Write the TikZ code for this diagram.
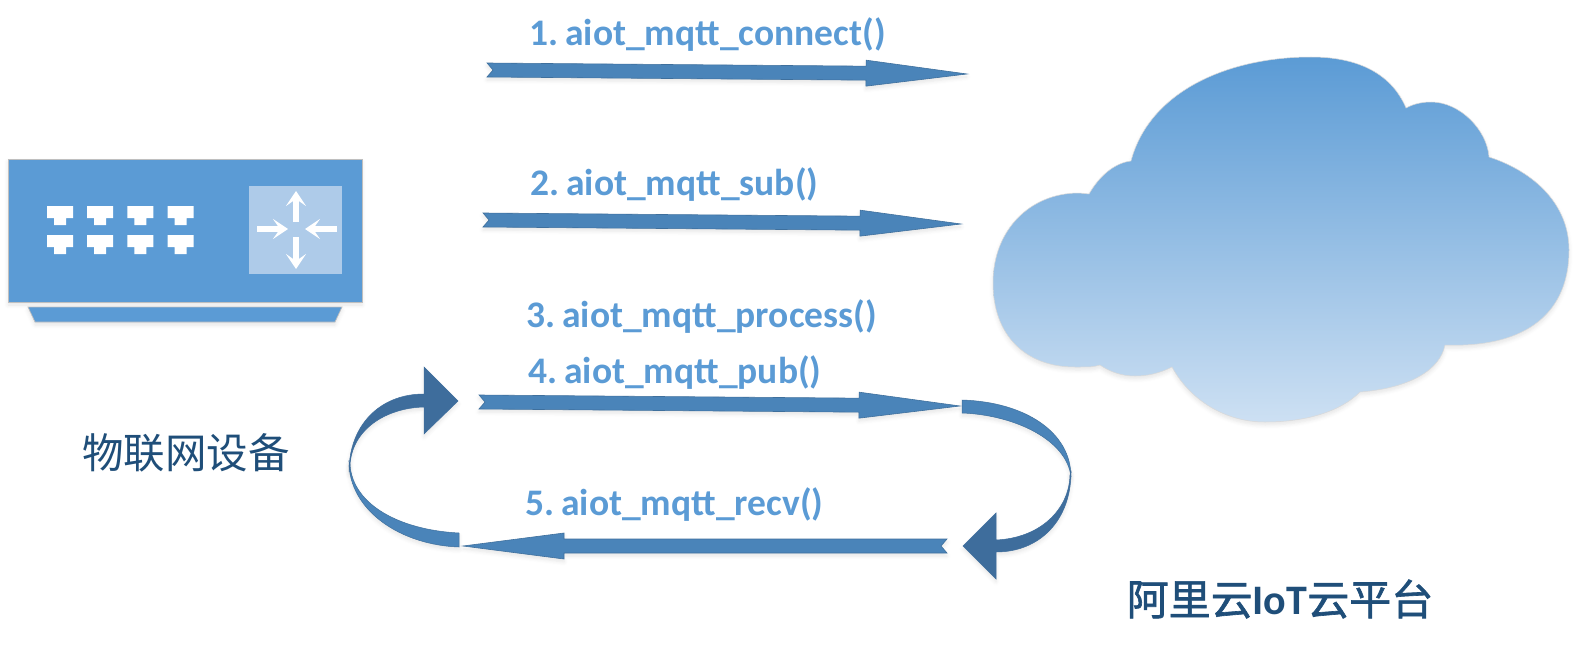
\documentclass[tikz,border=0pt]{standalone}
\usepackage{fontspec}
\setmainfont[WordSpace=0.5]{Carlito}
\newfontfamily\cjk{Noto Sans CJK SC}
\newfontfamily\cjkmid[FakeBold=1.5]{Noto Sans CJK SC}
\usetikzlibrary{arrows.meta, calc, shadows.blur}
\definecolor{devblue}{HTML}{5B9BD5}
\definecolor{panelblue}{HTML}{AECBE9}
\definecolor{bandblue}{HTML}{4A84B9}
\definecolor{banddark}{HTML}{3E6D9C}
\definecolor{inkblue}{HTML}{1F4E79}
\definecolor{cloudlow}{HTML}{CDE0F3}

\begin{document}
\begin{tikzpicture}[x=1pt, y=-1pt,
    glow/.style={blur shadow={shadow xshift=0pt, shadow yshift=-3pt, shadow blur radius=4pt, shadow blur steps=5, shadow opacity=10}},
    device/.style={fill=devblue, draw=black!25, line width=0.7pt, glow},
    port/.style={fill=white},
    turn/.style={draw=white, line width=6pt, -{Stealth[length=15pt, width=20pt, inset=7pt]}},
    bandarrow/.style={fill=bandblue, draw=bandblue!85!black, line width=0.6pt, line join=miter, glow,
        to path={($(\tikztostart)!7pt!90:(\tikztotarget)$) -- ($(\tikztostart)!6pt!(\tikztotarget)$)
        -- ($(\tikztostart)!7pt!-90:(\tikztotarget)$) -- ($(\tikztotarget)!101pt!(\tikztostart)!7pt!90:(\tikztostart)$)
        -- ($(\tikztotarget)!101pt!(\tikztostart)!13pt!90:(\tikztostart)$) -- (\tikztotarget)
        -- ($(\tikztotarget)!101pt!(\tikztostart)!13pt!-90:(\tikztostart)$)
        -- ($(\tikztotarget)!101pt!(\tikztostart)!7pt!-90:(\tikztostart)$) -- cycle}},
    loopa/.style={fill=bandblue, draw=bandblue!85!black, line width=0.5pt, glow},
    loopb/.style={fill=banddark, draw=banddark, line width=0.5pt, glow},
    call/.style={anchor=base west, inner sep=0pt, text=devblue, font=\fontsize{37.5}{40}\selectfont\bfseries},
    title/.style={inner sep=0pt, text=inkblue}]
\useasboundingbox (0,0) rectangle (1578,658);
% cloud
\path[top color=devblue, bottom color=cloudlow, draw=black!15, line width=0.5pt, glow]
    (1131,161) .. controls (1150,90) and (1230,57) .. (1311,57)
    .. controls (1360,57) and (1392,75) .. (1406,108)
    .. controls (1415,103) and (1425,102) .. (1431,102)
    .. controls (1460,102) and (1487,130) .. (1489,157)
    .. controls (1535,172) and (1569,205) .. (1569,250)
    .. controls (1569,310) and (1530,348) .. (1445,345)
    .. controls (1440,370) and (1410,388) .. (1360,392)
    .. controls (1340,412) and (1305,422) .. (1265,422)
    .. controls (1225,422) and (1190,400) .. (1172,367)
    .. controls (1160,373) and (1148,376) .. (1135,376)
    .. controls (1122,376) and (1110,372) .. (1100,365)
    .. controls (1092,367) .. (1075,367)
    .. controls (1025,367) and (993,335) .. (993,283)
    .. controls (993,230) and (1030,193) .. (1079,193)
    -- (1089,194) .. controls (1100,175) and (1115,163) .. (1131,161) -- cycle;
% device
\draw[device] (8,159) rectangle (362,302);
\draw[device] (28,307) -- (342,307) -- (335,322) -- (35,322) -- cycle;
\foreach \i in {0,...,3}
  \foreach \j in {0,1}
    \fill[port, shift={(40.2*\i,29*\j)}] (47,206) -- (73,206) -- (73,218) -- (66,218) -- (66,225) -- (54,225) -- (54,218) -- (47,218) -- cycle;
\fill[panelblue] (249,186) rectangle (342,274);
\draw[turn] (296,222) -- (296,191);
\draw[turn] (296,237) -- (296,269);
\draw[turn] (257,229) -- (288,229);
\draw[turn] (337,229) -- (305,229);
% straight calls
\coordinate (connA) at (487,70);
\coordinate (connB) at (967,74);
\coordinate (subA) at (483,220);
\coordinate (subB) at (961,224);
\coordinate (pubA) at (479,402);
\coordinate (pubB) at (960,406);
\coordinate (recvA) at (947,546);
\coordinate (recvB) at (463,546);
\draw[bandarrow] (connA) to (connB);
\draw[bandarrow] (subA) to (subB);
\draw[bandarrow] (pubA) to (pubB);
\draw[bandarrow] (recvA) to (recvB);
% right loop
\draw[loopa] (962,400) .. controls (1025,402) and (1071,432) .. (1071,477)
    .. controls (1067,440) and (1015,415) .. (962,413) -- cycle;
\draw[loopb] (1071,472) .. controls (1071,520) and (1040,552) .. (996,552) -- (996,579) -- (963,546) -- (996,513) -- (996,540)
    .. controls (1040,538) and (1069,510) .. (1070,475) -- cycle;
% left loop
\draw[loopa] (349,462) .. controls (349,510) and (400,545) .. (459,547) -- (459,533)
    .. controls (400,530) and (353,505) .. (350,465) -- cycle;
\draw[loopb] (349,472) .. controls (349,425) and (380,394) .. (424,394) -- (424,367) -- (458,401) -- (424,434) -- (424,407)
    .. controls (385,408) and (352,430) .. (350,465) -- cycle;
% labels
\node[call] (connect) at (529,46) {1. aiot\_mqtt\_connect()};
\node[call] (sub) at (530,195) {2. aiot\_mqtt\_sub()};
\node[call] (process) at (526,327) {3. aiot\_mqtt\_process()};
\node[call] (pub) at (528,383) {4. aiot\_mqtt\_pub()};
\node[call] (recv) at (525,515) {5. aiot\_mqtt\_recv()};
\node[title, font=\fontsize{41.5}{44}\selectfont\cjk] (iot) at (186,453) {物联网设备};
\node[title, font=\fontsize{42}{44}\selectfont] (cloud) at (1280,599) {{\cjkmid 阿里云}{\bfseries IoT}{\cjkmid 云平台}};
\end{tikzpicture}
\end{document}
